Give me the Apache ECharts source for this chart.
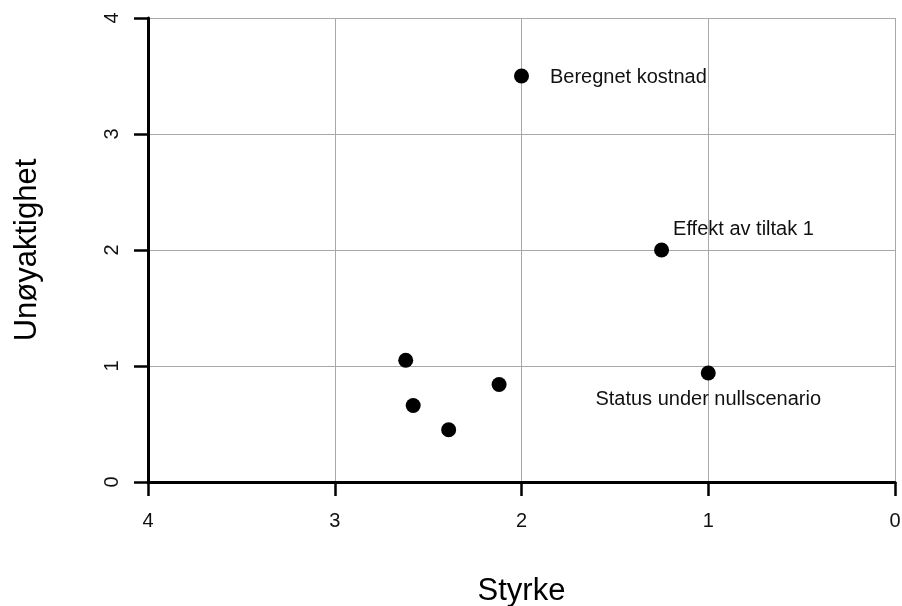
<!DOCTYPE html>
<html>
<head>
<meta charset="utf-8">
<title>Styrke / Unøyaktighet</title>
<script src="https://cdn.jsdelivr.net/npm/echarts@6/dist/echarts.min.js"></script>
<style>
  html, body { margin: 0; padding: 0; background: #fff; }
  #main { width: 902px; height: 606px; }
</style>
</head>
<body>
<div id="main"></div>
<script>
// punkt: styrke (x), unøyaktighet (y), etikett
var styrke = [2.0, 1.25, 1.0, 2.62, 2.58, 2.39, 2.12];
var unoyaktighet = [3.5, 2.0, 0.94, 1.05, 0.66, 0.45, 0.84];
var etiketter = ['Beregnet kostnad', 'Effekt av tiltak 1', 'Status under nullscenario', '', '', '', ''];
var xTicks = [0, 1, 2, 3, 4];
var yTicks = [0, 1, 2, 3, 4];

// hvor etiketten skal stå
var plassering = [
  { position: 'right', distance: 5, offset: [16, 1] },
  { position: 'right', distance: 5, offset: [-1, -21] },
  { position: 'bottom', distance: 5, offset: [0, 4] }
];

var data = styrke.map(function (x, i) {
  var d = { value: [x, unoyaktighet[i]], name: etiketter[i] };
  if (etiketter[i]) {
    d.label = Object.assign({ show: true, formatter: '{b}' }, plassering[i]);
  }
  return d;
});

var chart = echarts.init(document.getElementById('main'));
chart.setOption({
  animation: false,
  textStyle: { fontFamily: 'Liberation Sans, Arial, sans-serif' },
  grid: { left: 148, right: 7, top: 18, bottom: 124, containLabel: false, outerBoundsMode: 'none' },
  xAxis: {
    type: 'value',
    inverse: true,
    min: xTicks[0], max: xTicks[xTicks.length - 1], interval: 1,
    name: 'Styrke',
    nameLocation: 'middle',
    nameGap: 94,
    nameTextStyle: { fontSize: 31, color: '#000' },
    axisLine: { onZero: false, lineStyle: { color: '#000', width: 3 } },
    axisTick: { length: 14, lineStyle: { color: '#000', width: 2.5 } },
    axisLabel: { fontSize: 20, color: '#111', margin: 29 },
    splitLine: { lineStyle: { color: '#a8a8a8', width: 1 } }
  },
  yAxis: {
    type: 'value',
    min: yTicks[0], max: yTicks[yTicks.length - 1], interval: 1,
    name: 'Unøyaktighet',
    nameLocation: 'middle',
    nameGap: 105,
    nameRotate: 90,
    nameTextStyle: { fontSize: 31, color: '#000' },
    axisLine: { onZero: false, lineStyle: { color: '#000', width: 3 } },
    axisTick: { length: 14, lineStyle: { color: '#000', width: 2.5 } },
    axisLabel: { fontSize: 20, color: '#111', rotate: 90, margin: 26 },
    splitLine: { lineStyle: { color: '#a8a8a8', width: 1 } }
  },
  series: [{
    type: 'scatter',
    symbol: 'circle',
    symbolSize: 15,
    itemStyle: { color: '#000', opacity: 1 },
    label: { color: '#111', fontSize: 20 },
    data: data
  }]
});
</script>
</body>
</html>
